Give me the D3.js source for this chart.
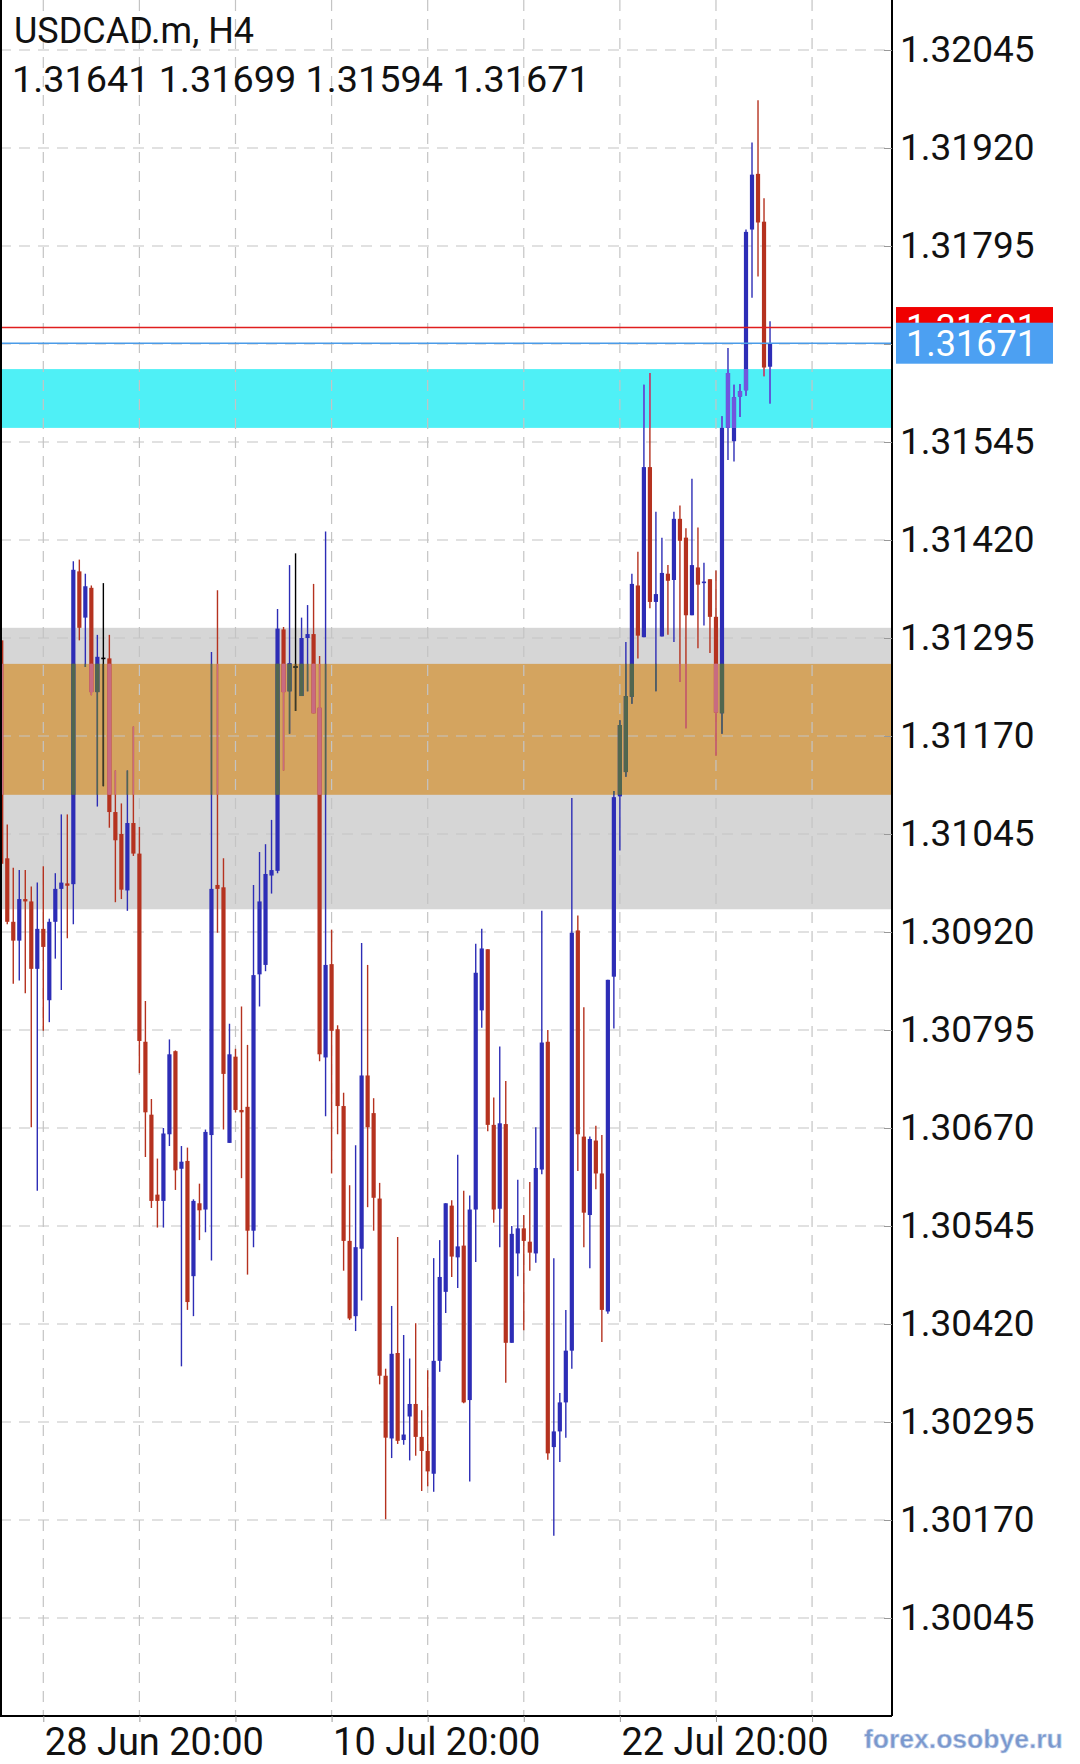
<!DOCTYPE html>
<html><head><meta charset="utf-8">
<script src="https://cdn.jsdelivr.net/npm/d3@7"></script>
<style>
html,body{margin:0;padding:0;background:#fff;}
svg{display:block;font-family:Roboto,"Noto Sans",sans-serif;}
</style></head><body>
<svg id="chart" width="1080" height="1764"></svg>
<script>
// ---------- DATA ----------
const symbolTitle = "USDCAD.m, H4";
const lastQuote = "1.31641 1.31699 1.31594 1.31671";
const firstBarNumber = -7; // bar 0 = 28 Jun 20:00
const opens = [1.31292,1.31014,1.30933,1.30909,1.30962,1.30959,1.30873,
1.30924,1.30833,1.30933,1.30975,1.30982,1.30981,1.31380,1.31321,1.31359,1.31226,1.31270,1.31269,1.31073,1.31045,1.30973,1.31059,
1.31020,1.30780,1.30687,1.30585,1.30577,1.30662,1.30768,1.30618,1.30628,1.30481,1.30574,1.30566,1.30661,1.30980,1.30977,1.30651,
1.30761,1.30693,1.30697,1.30539,1.30866,1.30878,1.30992,1.30998,1.31306,1.31227,1.31259,1.31221,1.31295,1.31300,1.31206,1.30760,
1.30879,1.30796,1.30698,1.30526,1.30430,1.30516,1.30737,1.30689,1.30580,1.30354,1.30274,1.30383,1.30272,1.30302,1.30318,1.30276,
1.30258,1.30229,1.30373,1.30461,1.30571,1.30505,1.30520,1.30323,1.30566,1.30820,1.30898,1.30674,1.30567,1.30675,1.30396,1.30510,
1.30542,1.30525,1.30510,1.30617,1.30780,1.30263,1.30283,1.30320,1.30386,1.30922,1.30659,1.30559,1.30654,1.30612,1.30436,1.30863,
1.31093,1.31124,1.31220,1.31362,1.31296,1.31513,1.31341,1.31297,1.31377,1.31369,1.31447,1.31423,1.31324,1.31385,1.31365,1.31370,
1.31322,1.31199,1.31563,1.31546,1.31603,1.31611,1.31816,1.31887,1.31826,1.31641];
const highs = [1.31319,1.31057,1.31002,1.30999,1.30999,1.30978,1.30983,
1.31004,1.30937,1.30995,1.31070,1.31070,1.31393,1.31395,1.31377,1.31362,1.31299,1.31365,1.31299,1.31126,1.31084,1.31126,1.31182,
1.31054,1.30832,1.30707,1.30631,1.30670,1.30783,1.30769,1.30647,1.30645,1.30579,1.30599,1.30668,1.31277,1.31356,1.31014,1.30803,
1.30771,1.30825,1.30776,1.30980,1.31022,1.31032,1.31063,1.31332,1.31309,1.31388,1.31403,1.31321,1.31337,1.31364,1.31272,1.31431,
1.30923,1.30801,1.30715,1.30597,1.30648,1.30906,1.30878,1.30708,1.30600,1.30363,1.30443,1.30531,1.30406,1.30376,1.30421,1.30310,
1.30361,1.30504,1.30527,1.30574,1.30578,1.30636,1.30590,1.30584,1.30905,1.30924,1.30898,1.30709,1.30774,1.30730,1.30545,1.30604,
1.30559,1.30601,1.30671,1.30947,1.30795,1.30504,1.30332,1.30438,1.31091,1.30941,1.30824,1.30659,1.30673,1.30661,1.30859,1.31100,
1.31190,1.31290,1.31377,1.31405,1.31618,1.31633,1.31456,1.31423,1.31388,1.31456,1.31464,1.31435,1.31498,1.31436,1.31391,1.31370,
1.31381,1.31578,1.31665,1.31618,1.31619,1.31816,1.31927,1.31981,1.31856,1.31699];
const lows = [1.30999,1.30930,1.30854,1.30858,1.30842,1.30671,1.30590,
1.30794,1.30805,1.30886,1.30846,1.30912,1.30930,1.31292,1.31258,1.31222,1.31080,1.31106,1.31053,1.30958,1.30962,1.30947,1.31017,
1.30740,1.30633,1.30568,1.30543,1.30543,1.30647,1.30591,1.30366,1.30438,1.30430,1.30527,1.30537,1.30501,1.30919,1.30668,1.30651,
1.30690,1.30606,1.30483,1.30518,1.30825,1.30870,1.30969,1.30995,1.31126,1.31173,1.31202,1.31221,1.31227,1.31199,1.30755,1.30685,
1.30612,1.30662,1.30488,1.30425,1.30411,1.30450,1.30569,1.30539,1.30343,1.30171,1.30249,1.30267,1.30266,1.30246,1.30252,1.30207,
1.30213,1.30206,1.30359,1.30434,1.30480,1.30466,1.30319,1.30219,1.30499,1.30798,1.30666,1.30549,1.30518,1.30345,1.30396,1.30481,
1.30412,1.30488,1.30498,1.30611,1.30247,1.30150,1.30244,1.30275,1.30363,1.30615,1.30518,1.30491,1.30592,1.30397,1.30433,1.30797,
1.31024,1.31118,1.31211,1.31269,1.31296,1.31333,1.31227,1.31297,1.31299,1.31290,1.31239,1.31180,1.31324,1.31282,1.31311,1.31276,
1.31145,1.31173,1.31522,1.31520,1.31577,1.31604,1.31729,1.31756,1.31629,1.31594];
const closes = [1.31007,1.30933,1.30909,1.30962,1.30959,1.30873,1.30924,
1.30901,1.30933,1.30975,1.30983,1.30979,1.31382,1.31308,1.31361,1.31226,1.31271,1.31270,1.31073,1.31037,1.30974,1.31059,1.31020,
1.30781,1.30690,1.30577,1.30577,1.30663,1.30764,1.30616,1.30627,1.30448,1.30577,1.30565,1.30665,1.30975,1.30975,1.30739,1.30764,
1.30693,1.30690,1.30539,1.30865,1.30959,1.30994,1.30999,1.31307,1.31226,1.31263,1.31259,1.31295,1.31300,1.31199,1.30764,1.30878,
1.30794,1.30698,1.30526,1.30427,1.30518,1.30737,1.30671,1.30581,1.30354,1.30275,1.30382,1.30271,1.30279,1.30318,1.30276,1.30258,
1.30232,1.30373,1.30480,1.30574,1.30506,1.30519,1.30320,1.30566,1.30868,1.30899,1.30674,1.30566,1.30676,1.30396,1.30535,1.30542,
1.30526,1.30511,1.30619,1.30779,1.30255,1.30283,1.30320,1.30386,1.30919,1.30662,1.30562,1.30656,1.30612,1.30438,1.30859,1.31092,
1.31184,1.31221,1.31364,1.31298,1.31513,1.31341,1.31351,1.31378,1.31368,1.31447,1.31419,1.31324,1.31388,1.31363,1.31367,1.31322,
1.31200,1.31563,1.31633,1.31602,1.31610,1.31813,1.31886,1.31825,1.31640,1.31671];

const priceTicks = ["1.32045","1.31920","1.31795","1.31670","1.31545","1.31420","1.31295","1.31170","1.31045","1.30920","1.30795","1.30670","1.30545","1.30420","1.30295","1.30170","1.30045"];
const gridBars = [0,16,32,48,64,80,96,112,128];
const dateTickBars = [0,48,96];
const dateTickLabels = ["28 Jun 20:00","10 Jul 20:00","22 Jul 20:00"];

const zoneNames = ["gray","orange","cyan"];
const zoneTops = [1.31308,1.31262,1.31638];
const zoneBottoms = [1.30949,1.31095,1.31563];

const bidPrice = 1.31671, askPrice = 1.31691;
const bidLabel = "1.31671", askLabel = "1.31691";
const watermark = "forex.osobye.ru";

// ---------- STYLE ----------
const W = 1080, H = 1764;
const plotRight = 892, plotBottom = 1716;
const zoneFill = {gray:"#d6d6d6", orange:"#d4a45f", cyan:"#4ff0f6"};
const bullColor = "#2d2db6", bearColor = "#b5321f", dojiColor = "#000";
const tint = {
  orange:{bull:"#51664f", bear:"#c86b80", doji:"#3a3a2a"},
  cyan:{bull:"#7156de", bear:"#c04a8a", doji:"#333"}
};

const svg = d3.select("#chart");
svg.append("rect").attr("width",W).attr("height",H).attr("fill","#fff");

const x = d3.scaleLinear().domain([0,128]).range([43.3, 43.3 + 128*6.006]);
const y = d3.scaleLinear().domain([1.30045,1.32045]).range([1618,50]);

const bars = opens.map((o,j)=>({n:j+firstBarNumber,o,h:highs[j],l:lows[j],c:closes[j]}));

// zones
svg.append("g").selectAll("rect").data(zoneNames).join("rect")
  .attr("x",0).attr("width",plotRight)
  .attr("y",(d,i)=>y(zoneTops[i]))
  .attr("height",(d,i)=>y(zoneBottoms[i])-y(zoneTops[i]))
  .attr("fill",d=>zoneFill[d]);

// grid
const grid = svg.append("g").attr("stroke","#c4c4c4").attr("stroke-width",1.2).attr("stroke-dasharray","11,8");
grid.selectAll(".gh").data(priceTicks).join("line")
  .attr("x1",0).attr("x2",plotRight)
  .attr("y1",d=>y(+d)).attr("y2",d=>y(+d));
grid.selectAll(".gv").data(gridBars).join("line")
  .attr("x1",d=>x(d)).attr("x2",d=>x(d))
  .attr("y1",0).attr("y2",plotBottom);

function drawCandles(g, colors){
  const col = d => d.c>d.o ? colors.bull : (d.c<d.o ? colors.bear : colors.doji);
  const cg = g.selectAll("g").data(bars).join("g");
  cg.append("line")
    .attr("x1",d=>x(d.n)).attr("x2",d=>x(d.n))
    .attr("y1",d=>y(d.h)).attr("y2",d=>y(d.l))
    .attr("stroke",col).attr("stroke-width",1.4);
  cg.append("rect")
    .attr("x",d=>x(d.n)-2.1).attr("width",4.2)
    .attr("y",d=>y(Math.max(d.o,d.c)))
    .attr("height",d=>Math.max(1.6, Math.abs(y(d.o)-y(d.c))))
    .attr("fill",col);
}
drawCandles(svg.append("g"), {bull:bullColor,bear:bearColor,doji:dojiColor});

// tinted copies inside orange & cyan zones
const defs = svg.append("defs");
["orange","cyan"].forEach(name=>{
  const i = zoneNames.indexOf(name);
  defs.append("clipPath").attr("id","clip-"+name).append("rect")
    .attr("x",0).attr("width",plotRight)
    .attr("y",y(zoneTops[i])).attr("height",y(zoneBottoms[i])-y(zoneTops[i]));
  drawCandles(svg.append("g").attr("clip-path","url(#clip-"+name+")"), tint[name]);
});

// price lines
svg.append("line").attr("x1",0).attr("x2",plotRight).attr("y1",y(askPrice)).attr("y2",y(askPrice))
  .attr("stroke","#e01e1e").attr("stroke-width",1.5);
svg.append("line").attr("x1",0).attr("x2",plotRight).attr("y1",y(bidPrice)).attr("y2",y(bidPrice))
  .attr("stroke","#4a9be8").attr("stroke-width",1.5);

// frame
svg.append("line").attr("x1",1).attr("x2",1).attr("y1",0).attr("y2",plotBottom).attr("stroke","#000").attr("stroke-width",2);
svg.append("line").attr("x1",plotRight).attr("x2",plotRight).attr("y1",0).attr("y2",plotBottom).attr("stroke","#000").attr("stroke-width",2);
svg.append("line").attr("x1",0).attr("x2",plotRight).attr("y1",plotBottom).attr("y2",plotBottom).attr("stroke","#000").attr("stroke-width",2);

// right price axis
const ay = svg.append("g").attr("transform",`translate(${plotRight},0)`)
  .call(d3.axisRight(y).tickValues(priceTicks.map(Number)).tickSize(-8).tickPadding(8)
    .tickFormat((d,i)=>priceTicks[i]));
ay.select(".domain").remove();
ay.selectAll(".tick line").attr("stroke","#999");
ay.selectAll("text").attr("font-size",37).attr("fill","#111").attr("font-family","Roboto");

// bottom time axis
const ax = svg.append("g").attr("transform",`translate(0,${plotBottom})`)
  .call(d3.axisBottom(x).tickValues(gridBars).tickSize(6).tickPadding(6)
    .tickFormat(d=>{const k=dateTickBars.indexOf(d); return k>=0?dateTickLabels[k]:"";}));
ax.select(".domain").remove();
ax.selectAll(".tick line").attr("stroke","#999");
ax.selectAll("text").attr("font-size",38).attr("fill","#111").attr("text-anchor","start").attr("x",1).attr("font-family","Roboto");

// price labels (ask partly hidden behind bid, as in the terminal)
function priceBox(p, label, fill){
  const cy = y(p);
  svg.append("rect").attr("x",896).attr("y",cy-20.5).attr("width",157).attr("height",41).attr("fill",fill);
  svg.append("text").attr("x",906).attr("y",cy).attr("dy","0.35em").attr("font-size",36)
    .attr("fill","#fff").text(label);
}
priceBox(askPrice, askLabel, "#f00000");
priceBox(bidPrice, bidLabel, "#4ca0f2");

// header
svg.append("text").attr("x",14).attr("y",43).attr("font-size",36).attr("fill","#111").text(symbolTitle);
svg.append("text").attr("x",12).attr("y",92).attr("font-size",37.8).attr("fill","#111").text(lastQuote);

// watermark
svg.append("text").attr("x",864).attr("y",1748).attr("font-size",26.5).attr("font-weight","bold")
  .attr("font-family","Liberation Sans, Arial, sans-serif")
  .attr("fill","#7a98cc").attr("stroke","#c9d6ee").attr("stroke-width",0.6).text(watermark);
</script>
</body></html>
